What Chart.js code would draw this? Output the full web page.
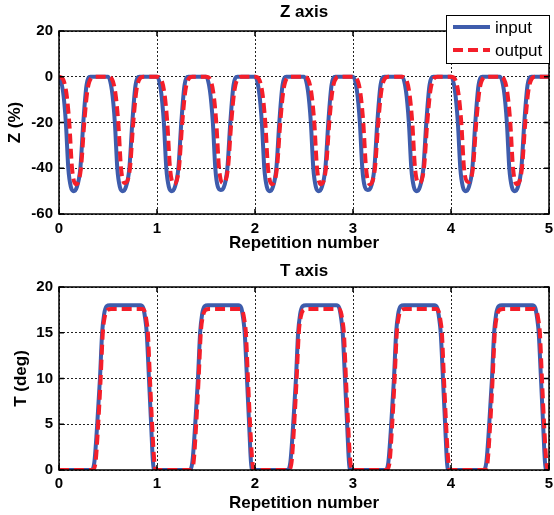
<!DOCTYPE html>
<html>
<head>
<meta charset="utf-8">
<script src="https://cdn.jsdelivr.net/npm/chart.js@4/dist/chart.umd.min.js"></script>
<style>
  html, body { margin: 0; padding: 0; background: #fff; }
  #wrap { position: relative; width: 554px; height: 515px; }
  canvas { position: absolute; left: 0; }
  #zChart { top: 0; }
  #tChart { top: 255px; }
</style>
</head>
<body>
<div id="wrap">
  <canvas id="zChart" width="554" height="255"></canvas>
  <canvas id="tChart" width="554" height="260"></canvas>
</div>
<script>
// Z axis, input (10 repetitions of half a unit)
const zInX = [
    0, 0.04, 0.07, 0.095, 0.12, 0.15, 0.18, 0.218, 0.248, 0.28, 0.32,
    0.5, 0.54, 0.57, 0.595, 0.62, 0.65, 0.68, 0.718, 0.748, 0.78, 0.82,
    1, 1.04, 1.07, 1.095, 1.12, 1.15, 1.18, 1.218, 1.248, 1.28, 1.32,
    1.5, 1.54, 1.57, 1.595, 1.62, 1.65, 1.68, 1.718, 1.748, 1.78, 1.82,
    2, 2.04, 2.07, 2.095, 2.12, 2.15, 2.18, 2.218, 2.248, 2.28, 2.32,
    2.5, 2.54, 2.57, 2.595, 2.62, 2.65, 2.68, 2.718, 2.748, 2.78, 2.82,
    3, 3.04, 3.07, 3.095, 3.12, 3.15, 3.18, 3.218, 3.248, 3.28, 3.32,
    3.5, 3.54, 3.57, 3.595, 3.62, 3.65, 3.68, 3.718, 3.748, 3.78, 3.82,
    4, 4.04, 4.07, 4.095, 4.12, 4.15, 4.18, 4.218, 4.248, 4.28, 4.32,
    4.5, 4.54, 4.57, 4.595, 4.62, 4.65, 4.68, 4.718, 4.748, 4.78, 4.82,
    5
];
const zInY = [
    0, -6, -20, -40, -48, -50, -48.5, -40, -20, -4, 0,
    0, -6, -20, -40, -48, -50, -48.5, -40, -20, -4, 0,
    0, -6, -20, -40, -48, -50, -48.5, -40, -20, -4, 0,
    0, -6, -20, -40, -48, -49.5, -48.5, -40, -20, -4, 0,
    0, -6, -20, -40, -48, -50, -48.5, -40, -20, -4, 0,
    0, -6, -20, -40, -48, -50, -48.5, -40, -20, -4, 0,
    0, -6, -20, -40, -48, -49.5, -48.5, -40, -20, -4, 0,
    0, -6, -20, -40, -48, -50, -48.5, -40, -20, -4, 0,
    0, -6, -20, -40, -48, -50, -48.5, -40, -20, -4, 0,
    0, -6, -20, -40, -48, -50, -48.5, -40, -20, -4, 0,
    0
];

// Z axis, output (lags a little, shallower trough)
const zOutX = [
    0, 0.04, 0.075, 0.105, 0.133, 0.173, 0.224, 0.258, 0.29, 0.33, 0.36,
    0.5, 0.54, 0.575, 0.605, 0.633, 0.673, 0.724, 0.758, 0.79, 0.83, 0.86,
    1, 1.04, 1.075, 1.105, 1.133, 1.173, 1.224, 1.258, 1.29, 1.33, 1.36,
    1.5, 1.54, 1.575, 1.605, 1.633, 1.673, 1.724, 1.758, 1.79, 1.83, 1.86,
    2, 2.04, 2.075, 2.105, 2.133, 2.173, 2.224, 2.258, 2.29, 2.33, 2.36,
    2.5, 2.54, 2.575, 2.605, 2.633, 2.673, 2.724, 2.758, 2.79, 2.83, 2.86,
    3, 3.04, 3.075, 3.105, 3.133, 3.173, 3.224, 3.258, 3.29, 3.33, 3.36,
    3.5, 3.54, 3.575, 3.605, 3.633, 3.673, 3.724, 3.758, 3.79, 3.83, 3.86,
    4, 4.04, 4.075, 4.105, 4.133, 4.173, 4.224, 4.258, 4.29, 4.33, 4.36,
    4.5, 4.54, 4.575, 4.605, 4.633, 4.673, 4.724, 4.758, 4.79, 4.83, 4.86,
    5
];
const zOutY = [
    0, -1, -7, -20, -40, -47, -40, -20, -6, -0.5, 0,
    0, -1, -7, -20, -40, -46.5, -40, -20, -6, -0.5, 0,
    0, -1, -7, -20, -40, -47, -40, -20, -6, -0.5, 0,
    0, -1, -7, -20, -40, -46.5, -40, -20, -6, -0.5, 0,
    0, -1, -7, -20, -40, -47, -40, -20, -6, -0.5, 0,
    0, -1, -7, -20, -40, -47, -40, -20, -6, -0.5, 0,
    0, -1, -7, -20, -40, -47, -40, -20, -6, -0.5, 0,
    0, -1, -7, -20, -40, -46.5, -40, -20, -6, -0.5, 0,
    0, -1, -7, -20, -40, -46, -40, -20, -6, -0.5, 0,
    0, -1, -7, -20, -40, -47, -40, -20, -6, -0.5, 0,
    0
];

// T axis, input (5 pulses)
const tInX = [
    0,
    0.33, 0.36, 0.39, 0.418, 0.44, 0.46, 0.485, 0.52, 0.83, 0.86, 0.88, 0.895, 0.918, 0.94, 0.958, 0.972,
    1.33, 1.36, 1.39, 1.418, 1.44, 1.46, 1.485, 1.52, 1.83, 1.86, 1.88, 1.895, 1.918, 1.94, 1.958, 1.972,
    2.33, 2.36, 2.39, 2.418, 2.44, 2.46, 2.485, 2.52, 2.83, 2.86, 2.88, 2.895, 2.918, 2.94, 2.958, 2.972,
    3.33, 3.36, 3.39, 3.418, 3.44, 3.46, 3.485, 3.52, 3.83, 3.86, 3.88, 3.895, 3.918, 3.94, 3.958, 3.972,
    4.33, 4.36, 4.39, 4.418, 4.44, 4.46, 4.485, 4.52, 4.83, 4.86, 4.88, 4.895, 4.918, 4.94, 4.958, 4.972,
    5
];
const tInY = [
    0,
    0, 0.8, 5, 10, 15, 17, 17.9, 18, 18, 17.7, 16.5, 15, 10, 5, 1, 0,
    0, 0.8, 5, 10, 15, 17, 17.9, 18, 18, 17.7, 16.5, 15, 10, 5, 1, 0,
    0, 0.8, 5, 10, 15, 17, 17.9, 18, 18, 17.7, 16.5, 15, 10, 5, 1, 0,
    0, 0.8, 5, 10, 15, 17, 17.9, 18, 18, 17.7, 16.5, 15, 10, 5, 1, 0,
    0, 0.8, 5, 10, 15, 17, 17.9, 18, 18, 17.7, 16.5, 15, 10, 5, 1, 0,
    0
];

// T axis, output
const tOutX = [
    0,
    0.34, 0.37, 0.4, 0.425, 0.447, 0.468, 0.495, 0.53, 0.85, 0.875, 0.893, 0.907, 0.928, 0.95, 0.97, 0.988,
    1.34, 1.37, 1.4, 1.425, 1.447, 1.468, 1.495, 1.53, 1.85, 1.875, 1.893, 1.907, 1.928, 1.95, 1.97, 1.988,
    2.34, 2.37, 2.4, 2.425, 2.447, 2.468, 2.495, 2.53, 2.85, 2.875, 2.893, 2.907, 2.928, 2.95, 2.97, 2.988,
    3.34, 3.37, 3.4, 3.425, 3.447, 3.468, 3.495, 3.53, 3.85, 3.875, 3.893, 3.907, 3.928, 3.95, 3.97, 3.988,
    4.34, 4.37, 4.4, 4.425, 4.447, 4.468, 4.495, 4.53, 4.85, 4.875, 4.893, 4.907, 4.928, 4.95, 4.97, 4.988,
    5
];
const tOutY = [
    0,
    0, 0.6, 5, 10, 15, 16.8, 17.5, 17.6, 17.6, 17.3, 16.3, 15, 10, 5, 1.3, 0,
    0, 0.6, 5, 10, 15, 16.8, 17.5, 17.6, 17.6, 17.3, 16.3, 15, 10, 5, 1.3, 0,
    0, 0.6, 5, 10, 15, 16.8, 17.5, 17.6, 17.6, 17.3, 16.3, 15, 10, 5, 1.3, 0,
    0, 0.6, 5, 10, 15, 16.8, 17.5, 17.6, 17.6, 17.3, 16.3, 15, 10, 5, 1.3, 0,
    0, 0.6, 5, 10, 15, 16.8, 17.5, 17.6, 17.6, 17.3, 16.3, 15, 10, 5, 1.3, 0,
    0
];

const seriesNames = ['input', 'output'];
const BLUE = 'rgb(62, 92, 172)';
const RED = 'rgb(244, 30, 42)';

Chart.defaults.font.family = "'Liberation Sans', Arial, sans-serif";
Chart.defaults.color = '#000';

function toPts(xs, ys) {
    return xs.map((x, i) => ({ x: x, y: ys[i] }));
}

// box round the plot with inward ticks, like the original
const framePlugin = {
    id: 'frame',
    afterDatasetsDraw(chart) {
        const { ctx, chartArea: a, scales } = chart;
        ctx.save();
        ctx.strokeStyle = '#000';
        ctx.lineWidth = 1.5;
        ctx.setLineDash([]);
        ctx.strokeRect(a.left, a.top, a.right - a.left, a.bottom - a.top);
        ctx.beginPath();
        scales.x.ticks.forEach(t => {
            const px = scales.x.getPixelForValue(t.value);
            ctx.moveTo(px, a.bottom); ctx.lineTo(px, a.bottom - 5);
            ctx.moveTo(px, a.top); ctx.lineTo(px, a.top + 5);
        });
        scales.y.ticks.forEach(t => {
            const py = scales.y.getPixelForValue(t.value);
            ctx.moveTo(a.left, py); ctx.lineTo(a.left + 5, py);
            ctx.moveTo(a.right, py); ctx.lineTo(a.right - 5, py);
        });
        ctx.stroke();
        ctx.restore();
    }
};

// boxed legend sitting over the top-right corner
const boxLegend = {
    id: 'boxLegend',
    afterDraw(chart) {
        const { ctx, chartArea: a } = chart;
        const w = 103, h = 48;
        const bx = a.right - w, by = a.top - 16;
        ctx.save();
        ctx.fillStyle = '#fff';
        ctx.fillRect(bx, by, w, h);
        ctx.strokeStyle = '#000';
        ctx.lineWidth = 1;
        ctx.strokeRect(bx + 0.5, by + 0.5, w, h);
        ctx.font = "17px 'Liberation Sans', Arial, sans-serif";
        ctx.textBaseline = 'middle';
        ctx.textAlign = 'left';
        seriesNames.forEach((name, i) => {
            const ds = chart.data.datasets.find(d => d.label === name);
            const ry = by + 12 + i * 23;
            ctx.strokeStyle = ds.borderColor;
            ctx.lineWidth = ds.borderWidth;
            ctx.setLineDash(ds.borderDash || []);
            ctx.beginPath();
            ctx.moveTo(bx + 7, ry);
            ctx.lineTo(bx + 44, ry);
            ctx.stroke();
            ctx.fillStyle = '#000';
            ctx.fillText(name, bx + 49, ry + 1);
        });
        ctx.restore();
    }
};

function makeChart(id, opt) {
    return new Chart(document.getElementById(id), {
        type: 'line',
        data: {
            datasets: [{
                label: seriesNames[0],
                data: toPts(opt.inX, opt.inY),
                borderColor: BLUE,
                borderWidth: 4,
                order: 1
            }, {
                label: seriesNames[1],
                data: toPts(opt.outX, opt.outY),
                borderColor: RED,
                borderWidth: 4,
                borderDash: [10, 5],
                order: 0
            }]
        },
        options: {
            responsive: false,
            animation: false,
            events: [],
            parsing: false,
            elements: {
                point: { radius: 0 },
                line: { cubicInterpolationMode: 'monotone', borderCapStyle: 'butt' }
            },
            layout: { padding: { left: 0, right: 5, top: 0, bottom: 0 } },
            plugins: {
                legend: { display: false },
                tooltip: { enabled: false },
                title: {
                    display: true,
                    text: opt.title,
                    fullSize: false,
                    color: '#000',
                    font: { size: 17, weight: 'bold', lineHeight: 1 },
                    padding: opt.titlePad
                }
            },
            scales: {
                x: {
                    type: 'linear',
                    min: 0,
                    max: 5,
                    ticks: { stepSize: 1, padding: opt.xTickPad, font: { size: 15, weight: 'bold' }, color: '#000' },
                    grid: { color: '#222', lineWidth: 1, drawTicks: false },
                    border: { display: false, dash: [2, 2] },
                    title: {
                        display: true,
                        text: 'Repetition number',
                        color: '#000',
                        font: { size: 17, weight: 'bold', lineHeight: 1 },
                        padding: { top: 0, bottom: 3.5 }
                    },
                    afterFit: s => {
                        s.height = opt.xHeight;
                        s.paddingLeft = 0;
                        s.paddingRight = 0;
                    }
                },
                y: {
                    min: opt.yMin,
                    max: opt.yMax,
                    ticks: { stepSize: opt.yStep, padding: 6, font: { size: 15, weight: 'bold' }, color: '#000' },
                    grid: { color: '#222', lineWidth: 1, drawTicks: false },
                    border: { display: false, dash: [2, 2] },
                    title: {
                        display: true,
                        text: opt.yTitle,
                        color: '#000',
                        font: { size: 17, weight: 'bold', lineHeight: 1 },
                        padding: { top: opt.yTitlePad, bottom: 0 }
                    },
                    afterFit: s => { s.width = 59; }
                }
            }
        },
        plugins: opt.legend ? [framePlugin, boxLegend] : [framePlugin]
    });
}

makeChart('zChart', {
    title: 'Z axis', titlePad: { top: 4, bottom: 10 },
    inX: zInX, inY: zInY, outX: zOutX, outY: zOutY,
    yMin: -60, yMax: 20, yStep: 20, yTitle: 'Z (%)', yTitlePad: 7,
    xTickPad: 6, xHeight: 41, legend: true
});

makeChart('tChart', {
    title: 'T axis', titlePad: { top: 8, bottom: 7 },
    inX: tInX, inY: tInY, outX: tOutX, outY: tOutY,
    yMin: 0, yMax: 20, yStep: 5, yTitle: 'T (deg)', yTitlePad: 13,
    xTickPad: 5, xHeight: 45, legend: false
});
</script>
</body>
</html>
